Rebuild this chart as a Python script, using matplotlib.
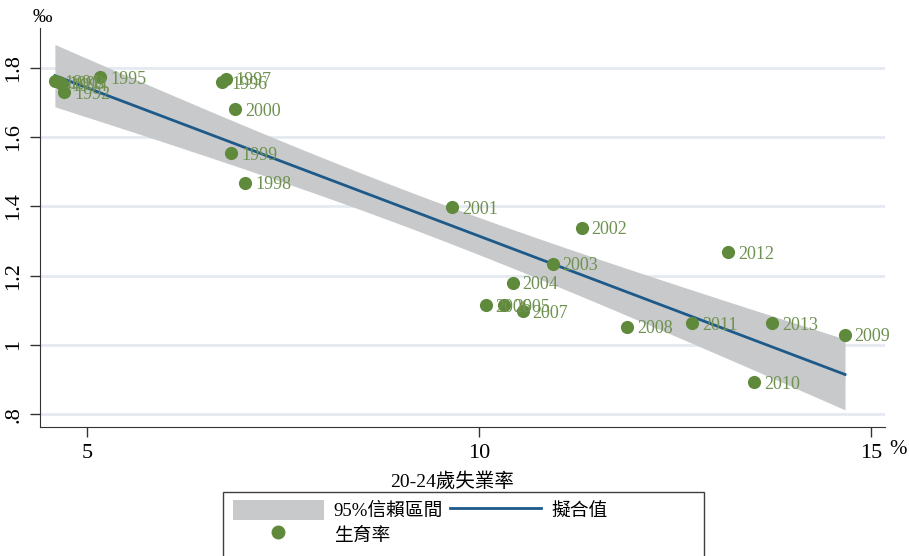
import numpy as np
import matplotlib
matplotlib.use("Agg")
import matplotlib.pyplot as plt
from matplotlib.patches import Patch, Rectangle
from matplotlib.lines import Line2D

plt.rcParams['font.family'] = ['Liberation Serif', 'Noto Sans CJK TC']

# data (20-24 unemployment %, fertility)
years = [1991, 1992, 1993, 1994, 1995, 1996, 1997, 1998, 1999, 2000, 2001, 2002,
         2003, 2004, 2005, 2006, 2007, 2008, 2009, 2010, 2011, 2012, 2013]
unemp = [4.59, 4.71, 4.64, 4.68, 5.17, 6.72, 6.77, 7.02, 6.84, 6.89, 9.66, 11.31,
         10.94, 10.43, 10.32, 10.09, 10.56, 11.89, 14.67, 13.51, 12.72, 13.18, 13.74]
fert = [1.762, 1.730, 1.759, 1.753, 1.773, 1.759, 1.768, 1.468, 1.554, 1.681, 1.398, 1.338,
        1.234, 1.179, 1.115, 1.115, 1.098, 1.052, 1.029, 0.893, 1.063, 1.268, 1.063]

yticks = [0.8, 1.0, 1.2, 1.4, 1.6, 1.8]
ytick_labels = ['.8', '1', '1.2', '1.4', '1.6', '1.8']
xticks = [5, 10, 15]

GRAY = '#c8c9cb'
BLUE = '#1d5a8a'
GREEN = '#5f8a3b'
LABEL_GREEN = '#6e9150'
GRID = '#e3eaf0'

# linear fit with 95% CI of the mean (like lfitci)
x = np.array(unemp)
y = np.array(fert)
n = len(x)
b, a = np.polyfit(x, y, 1)
resid = y - (a + b * x)
s = np.sqrt(np.sum(resid ** 2) / (n - 2))
sxx = np.sum((x - x.mean()) ** 2)
t975 = 2.080  # t(0.975, df=21)
xg = np.linspace(x.min(), x.max(), 100)
yg = a + b * xg
se = s * np.sqrt(1.0 / n + (xg - x.mean()) ** 2 / sxx)

fig = plt.figure(figsize=(9.09, 5.56), dpi=100)
ax = fig.add_axes([40 / 909, 1 - 427 / 556, 845 / 909, 399 / 556])

for yt in yticks:
    ax.axhline(yt, color=GRID, lw=2, zorder=0)

ax.fill_between(xg, yg - t975 * se, yg + t975 * se, color=GRAY, lw=0, zorder=1)
ax.plot(xg, yg, color=BLUE, lw=2, zorder=2)
ax.scatter(unemp, fert, s=90, color=GREEN, lw=0, zorder=3)
for yr, xi, yi in zip(years, unemp, fert):
    ax.annotate(str(yr), (xi, yi), xytext=(7, -1.5), textcoords='offset points',
                ha='left', va='center', fontsize=13, color=LABEL_GREEN, zorder=4)

ax.set_xlim(4.40, 15.18)
ax.set_ylim(0.763, 1.915)
ax.set_yticks(yticks)
ax.set_yticklabels(ytick_labels, rotation=90, va='center')
ax.set_xticks(xticks)
ax.set_xticklabels([str(v) for v in xticks])
ax.tick_params(axis='both', labelsize=16, length=7, width=1, color='#333333', pad=5)
for side in ['top', 'right']:
    ax.spines[side].set_visible(False)
for side in ['left', 'bottom']:
    ax.spines[side].set_color('#333333')
ax.set_facecolor('white')

ax.set_xlabel('20-24歲失業率', fontsize=14)
ax.xaxis.set_label_coords((452 - 40) / 845, (427 - 482) / 399)
ax.xaxis.label.set_va('center')

fig.text(42 / 909, 1 - 17 / 556, '‰', fontsize=14, ha='center', va='center')
fig.text(898 / 909, 1 - 450 / 556, '%', fontsize=15, ha='center', va='center')

# legend
handles = [Patch(facecolor=GRAY, edgecolor='none'),
           Line2D([], [], marker='o', ls='none', color=GREEN, markersize=9),
           Line2D([], [], color=BLUE, lw=2)]
labels = ['95%信賴區間', '生育率', '擬合值']
fig.legend(handles, labels, ncol=2, frameon=False, loc='upper left',
           bbox_to_anchor=(233 / 909, 1 - 500 / 556), borderpad=0, borderaxespad=0,
           fontsize=13.5, handlelength=4.85, handleheight=1.28, handletextpad=0.53,
           columnspacing=0.37, labelspacing=0.2)
fig.patches.append(Rectangle((223 / 909, -0.05), 481 / 909, 0.05 + 1 - 492 / 556,
                             transform=fig.transFigure, fill=False,
                             edgecolor='#404040', lw=1))

fig.savefig('out.png', dpi=100)
